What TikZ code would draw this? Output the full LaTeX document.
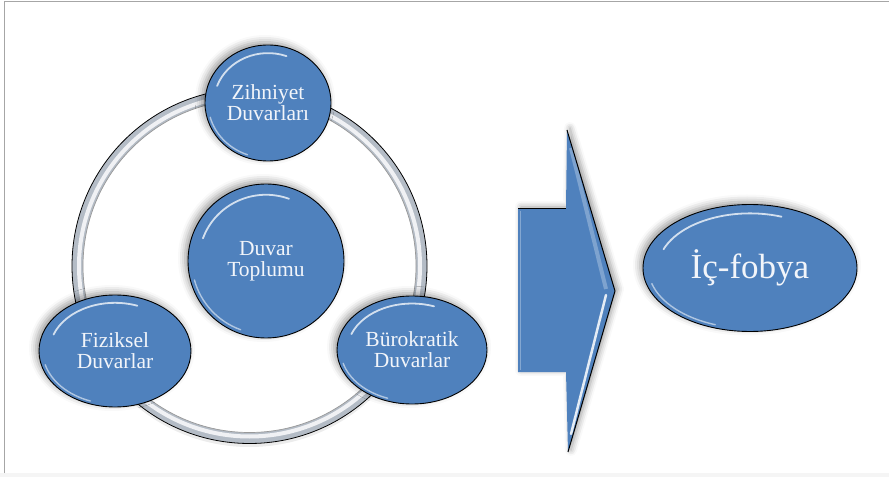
\documentclass[tikz,border=0pt]{standalone}
\usepackage{fontspec}
\setmainfont{Liberation Serif}
\usetikzlibrary{shapes.geometric,shadows.blur}
\definecolor{obl}{HTML}{4F81BD}
\definecolor{txt}{HTML}{F2F5FA}
\definecolor{ringc}{HTML}{B4BCC6}
\newcommand\hlarc[3]{%
  \draw[white, opacity=0.75, line width=1.8pt, line cap=round]
    ([shift={(160:{0.86*#2} and {0.86*#3})}]#1.center)
    arc[start angle=160, end angle=70, x radius={0.86*#2}, y radius={0.86*#3}];
  \draw[white, opacity=0.55, line width=1.4pt, line cap=round]
    ([shift={(195:{0.95*#2} and {0.95*#3})}]#1.center)
    arc[start angle=195, end angle=250, x radius={0.95*#2}, y radius={0.95*#3}];}
\begin{document}
\begin{tikzpicture}[x=1pt,y=1pt,
  blob/.style={ellipse, draw=black, line width=0.9pt, fill=obl, text=txt,
    align=center, inner sep=0pt, font=\fontsize{21.5}{21}\selectfont,
    blur shadow={shadow xshift=-3pt, shadow yshift=3pt, shadow blur radius=7pt, shadow opacity=40}},
  ringline/.style={line width=11pt, ringc}
  ]
\useasboundingbox (0,0) rectangle (889,477);
% frame
\fill[gray!8] (0,0) rectangle (889,4);
\draw[gray!70, line width=1.2pt] (4.5,4) -- (4.5,475.8) -- (889,475.8);

% ring
\node[circle, minimum size=355pt, inner sep=0pt] (ring) at (249.5,211) {};
\draw[gray!25, line width=6pt, opacity=0.6] ([yshift=-4pt]ring.center) circle (174);
\draw[ringline] (ring.center) circle (172);
\draw[white!80!ringc, line width=4pt] (ring.center) circle (170.5);
\draw[black, line width=0.8pt] (ring.center) circle (177.5);
\draw[gray!80, line width=0.7pt] (ring.center) circle (166.5);

% circles
\node[blob, minimum width=126pt, minimum height=116pt] (zih) at (268,374) {Zihniyet\\Duvarları};
\node[blob, minimum width=156pt, minimum height=154pt] (dt) at (266,216) {Duvar\\Toplumu};
\node[blob, minimum width=152pt, minimum height=112pt] (fiz) at (115,126) {Fiziksel\\Duvarlar};
\node[blob, minimum width=150pt, minimum height=108pt] (bur) at (412,127) {Bürokratik\\Duvarlar};
\node[blob, minimum width=214pt, minimum height=127pt, font=\fontsize{35}{36}\selectfont] (ic) at (750,209) {İç-fobya};

\hlarc{zih}{63}{58}
\hlarc{dt}{78}{77}
\hlarc{fiz}{76}{56}
\hlarc{bur}{75}{54}
\hlarc{ic}{107}{63.5}

% arrow
\coordinate (a1) at (518,268);
\coordinate (a2) at (566,268);
\coordinate (a3) at (567,347);
\coordinate (a4) at (615,186);
\coordinate (a5) at (568,25);
\coordinate (a6) at (566,105);
\coordinate (a7) at (518,105);
\fill[obl, blur shadow={shadow xshift=3pt, shadow yshift=2pt, shadow blur radius=6pt, shadow opacity=40}]
  (a1) -- (a2) -- (a3) -- (a4) -- (a5) -- (a6) -- (a7) -- cycle;
\draw[obl!55!white, line width=4pt, opacity=0.6] ([xshift=4pt,yshift=-18pt]a3) -- ([xshift=-9pt,yshift=2pt]a4);
\draw[white, line width=2.5pt, opacity=0.85, line cap=round] ([xshift=-9pt,yshift=-4pt]a4) -- ([xshift=3pt,yshift=18pt]a5);
\draw[obl!70!white, line width=1pt] ([xshift=2pt,yshift=-2pt]a1) -- ([xshift=2pt,yshift=2pt]a7);
\draw[black, line width=1pt] (a1) -- (a2);
\draw[black, line width=1pt, line join=round] (a3) -- (a4) -- (a5);
\end{tikzpicture}
\end{document}
